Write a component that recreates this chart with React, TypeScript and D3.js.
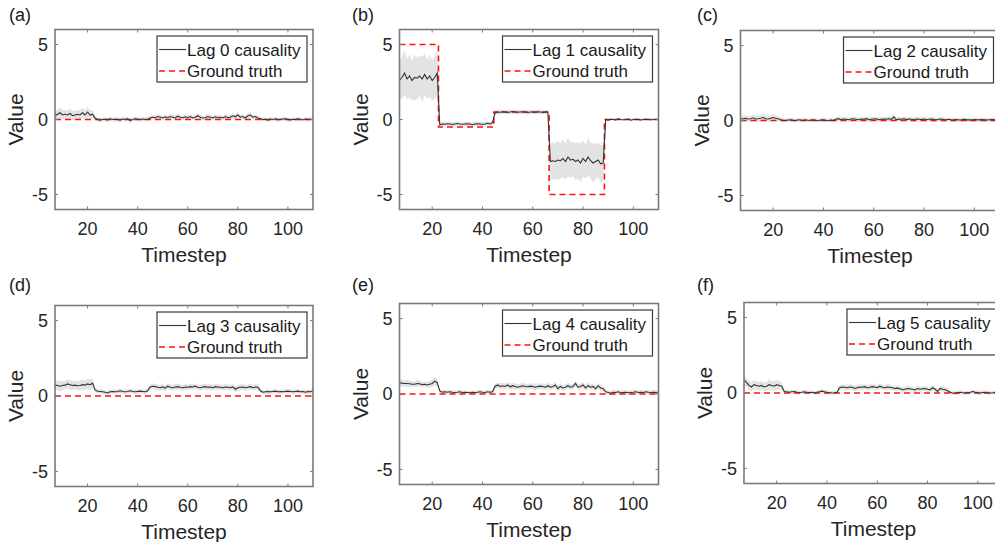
import React from "react";
import * as d3 from "d3";

// ---------- data ----------
const TIMESTEPS: number[] = d3.range(7, 111); // 104 timesteps, 7..110
const X_TICKS = [20, 40, 60, 80, 100];
const Y_TICKS = [-5, 0, 5];
const PANEL_LABELS = ["(a)", "(b)", "(c)", "(d)", "(e)", "(f)"];
const LEGEND_LABELS = [
  "Lag 0 causality",
  "Lag 1 causality",
  "Lag 2 causality",
  "Lag 3 causality",
  "Lag 4 causality",
  "Lag 5 causality",
];
const GT_LABEL = "Ground truth";

// mean estimates (segments: t7-22 | 23-44 | 45-66 | 67-88 | 89-110)
const lag0Mean = [
  0.25, 0.35, 0.45, 0.3, 0.35, 0.3, 0.4, 0.25, 0.3, 0.35, 0.3, 0.45, 0.3, 0.5, 0.3, 0.35,
  0.1, 0.0, -0.05, 0.0, 0.02, -0.03, 0.05, 0.0, 0.02, 0.0, -0.05, 0.03, 0.0, 0.05, -0.08, 0.0, 0.05, 0.02, 0.0, 0.03, 0.0, 0.02,
  0.1, 0.15, 0.12, 0.2, 0.15, 0.1, 0.18, 0.12, 0.2, 0.15, 0.1, 0.22, 0.15, 0.1, 0.18, 0.12, 0.2, 0.1, 0.15, 0.25, 0.15, 0.1,
  0.12, 0.2, 0.15, 0.1, 0.18, 0.12, 0.15, 0.1, 0.2, 0.12, 0.15, 0.25, 0.18, 0.3, 0.15, 0.2, 0.1, 0.25, 0.3, 0.15, 0.2, 0.1,
  0.05, 0.0, 0.02, -0.05, 0.03, 0.0, 0.05, -0.02, 0.0, 0.03, 0.05, 0.0, -0.03, 0.02, 0.0, 0.05, 0.0, -0.02, 0.03, 0.0, 0.02, 0.0,
];
const lag0Std = [
  0.3, 0.32, 0.35, 0.3, 0.28, 0.3, 0.33, 0.3, 0.28, 0.3, 0.32, 0.35, 0.3, 0.35, 0.3, 0.28,
  0.15, 0.14, 0.15, 0.13, 0.15, 0.14, 0.15, 0.13, 0.15, 0.14, 0.15, 0.13, 0.15, 0.14, 0.15, 0.13, 0.15, 0.14, 0.15, 0.13, 0.15, 0.14,
  0.15, 0.14, 0.15, 0.16, 0.15, 0.14, 0.15, 0.16, 0.15, 0.14, 0.15, 0.16, 0.15, 0.14, 0.15, 0.16, 0.15, 0.14, 0.15, 0.16, 0.15, 0.14,
  0.15, 0.16, 0.15, 0.14, 0.15, 0.16, 0.15, 0.14, 0.15, 0.16, 0.15, 0.18, 0.15, 0.2, 0.15, 0.16, 0.15, 0.18, 0.2, 0.15, 0.16, 0.15,
  0.12, 0.13, 0.12, 0.14, 0.12, 0.13, 0.12, 0.14, 0.12, 0.13, 0.12, 0.14, 0.12, 0.13, 0.12, 0.14, 0.12, 0.13, 0.12, 0.14, 0.12, 0.13,
];

const lag1Mean = [
  2.6, 2.8, 3.1, 2.7, 2.9, 2.6, 2.8, 2.75, 2.9, 2.7, 3.0, 2.7, 2.9, 2.6, 2.8, 3.1,
  -0.35, -0.3, -0.32, -0.28, -0.3, -0.33, -0.3, -0.27, -0.3, -0.32, -0.3, -0.28, -0.3, -0.35, -0.3, -0.28, -0.3, -0.33, -0.3, -0.25, -0.3, -0.2,
  0.45, 0.5, 0.48, 0.52, 0.5, 0.47, 0.5, 0.53, 0.5, 0.48, 0.5, 0.52, 0.5, 0.47, 0.5, 0.5, 0.48, 0.52, 0.5, 0.47, 0.5, 0.5,
  -2.8, -2.75, -2.8, -2.7, -2.75, -2.6, -2.8, -2.5, -2.7, -2.65, -2.8, -2.7, -2.9, -2.6, -2.8, -2.5, -2.75, -2.9, -2.8, -2.7, -2.95, -2.9,
  0.0, -0.05, 0.02, 0.0, -0.03, 0.05, 0.0, -0.02, 0.0, 0.03, -0.05, 0.0, 0.02, 0.0, -0.03, 0.0, 0.02, 0.0, -0.02, 0.0, 0.01, 0.0,
];
const lag1Std = [
  1.3, 1.4, 1.5, 1.35, 1.45, 1.3, 1.5, 1.4, 1.35, 1.5, 1.4, 1.3, 1.45, 1.35, 1.4, 1.5,
  0.15, 0.14, 0.15, 0.13, 0.15, 0.14, 0.15, 0.13, 0.15, 0.14, 0.15, 0.13, 0.15, 0.14, 0.15, 0.13, 0.15, 0.14, 0.15, 0.13, 0.15, 0.14,
  0.15, 0.16, 0.15, 0.14, 0.15, 0.16, 0.15, 0.14, 0.15, 0.16, 0.15, 0.14, 0.15, 0.16, 0.15, 0.14, 0.15, 0.16, 0.15, 0.14, 0.15, 0.16,
  1.15, 1.25, 1.2, 1.3, 1.15, 1.25, 1.2, 1.3, 1.2, 1.15, 1.25, 1.2, 1.3, 1.2, 1.15, 1.25, 1.2, 1.3, 1.2, 1.15, 1.25, 1.2,
  0.08, 0.07, 0.08, 0.09, 0.08, 0.07, 0.08, 0.09, 0.08, 0.07, 0.08, 0.09, 0.08, 0.07, 0.08, 0.09, 0.08, 0.07, 0.08, 0.09, 0.08, 0.07,
];

const lag2Mean = [
  0.1, 0.12, 0.15, 0.1, 0.12, 0.18, 0.1, 0.12, 0.15, 0.2, 0.12, 0.1, 0.15, 0.2, 0.15, 0.12,
  0.05, 0.02, 0.0, 0.03, 0.05, 0.02, 0.0, 0.05, 0.03, 0.02, 0.05, 0.0, 0.03, 0.05, 0.02, 0.0, 0.03, 0.05, 0.02, 0.0, 0.03, 0.0,
  0.08, 0.12, 0.05, 0.1, 0.08, 0.05, 0.1, 0.12, 0.08, 0.05, 0.1, 0.08, 0.12, 0.05, 0.08, 0.1, 0.12, 0.05, 0.08, 0.1, 0.08, 0.12,
  0.08, 0.25, 0.05, 0.1, 0.08, 0.12, 0.06, 0.1, 0.08, 0.05, 0.1, 0.08, 0.06, 0.1, 0.05, 0.08, 0.1, 0.06, 0.05, 0.08, 0.1, 0.05,
  0.05, 0.08, 0.03, 0.05, 0.06, 0.03, 0.05, 0.08, 0.04, 0.05, 0.03, 0.06, 0.05, 0.04, 0.06, 0.05, 0.03, 0.05, 0.06, 0.04, 0.05, 0.05,
];
const lag2Std = [
  0.18, 0.2, 0.22, 0.18, 0.2, 0.22, 0.2, 0.18, 0.2, 0.25, 0.2, 0.18, 0.22, 0.25, 0.2, 0.18,
  0.12, 0.13, 0.12, 0.14, 0.12, 0.13, 0.12, 0.14, 0.12, 0.13, 0.12, 0.14, 0.12, 0.13, 0.12, 0.14, 0.12, 0.13, 0.12, 0.14, 0.12, 0.13,
  0.15, 0.16, 0.15, 0.14, 0.15, 0.16, 0.15, 0.14, 0.15, 0.16, 0.15, 0.14, 0.15, 0.16, 0.15, 0.14, 0.15, 0.16, 0.15, 0.14, 0.15, 0.16,
  0.15, 0.2, 0.15, 0.14, 0.15, 0.16, 0.15, 0.14, 0.15, 0.16, 0.15, 0.14, 0.15, 0.16, 0.15, 0.14, 0.15, 0.16, 0.15, 0.14, 0.15, 0.16,
  0.12, 0.13, 0.12, 0.14, 0.12, 0.13, 0.12, 0.14, 0.12, 0.13, 0.12, 0.14, 0.12, 0.13, 0.12, 0.14, 0.12, 0.13, 0.12, 0.14, 0.12, 0.13,
];

const lag3Mean = [
  0.75, 0.7, 0.65, 0.7, 0.72, 0.8, 0.75, 0.7, 0.72, 0.68, 0.7, 0.75, 0.72, 0.8, 0.75, 0.85,
  0.4, 0.32, 0.3, 0.28, 0.25, 0.2, 0.28, 0.3, 0.28, 0.3, 0.35, 0.3, 0.28, 0.3, 0.35, 0.3, 0.28, 0.3, 0.32, 0.3, 0.28, 0.35,
  0.6, 0.65, 0.62, 0.58, 0.55, 0.6, 0.52, 0.65, 0.58, 0.55, 0.6, 0.62, 0.58, 0.55, 0.6, 0.58, 0.62, 0.6, 0.65, 0.58, 0.55, 0.6,
  0.62, 0.58, 0.6, 0.55, 0.62, 0.6, 0.58, 0.55, 0.6, 0.58, 0.55, 0.6, 0.45, 0.55, 0.58, 0.6, 0.55, 0.58, 0.62, 0.55, 0.6, 0.58,
  0.35, 0.25, 0.28, 0.3, 0.28, 0.3, 0.32, 0.28, 0.3, 0.28, 0.3, 0.32, 0.3, 0.28, 0.3, 0.32, 0.28, 0.3, 0.25, 0.3, 0.28, 0.35,
];
const lag3Std = [
  0.3, 0.32, 0.35, 0.3, 0.28, 0.3, 0.33, 0.3, 0.28, 0.3, 0.32, 0.35, 0.3, 0.35, 0.38, 0.3,
  0.15, 0.14, 0.15, 0.13, 0.15, 0.14, 0.15, 0.13, 0.15, 0.14, 0.15, 0.13, 0.15, 0.14, 0.15, 0.13, 0.15, 0.14, 0.15, 0.13, 0.15, 0.14,
  0.2, 0.18, 0.2, 0.19, 0.2, 0.18, 0.2, 0.19, 0.2, 0.18, 0.2, 0.19, 0.2, 0.18, 0.2, 0.19, 0.2, 0.18, 0.2, 0.19, 0.2, 0.18,
  0.2, 0.18, 0.2, 0.19, 0.2, 0.18, 0.2, 0.19, 0.2, 0.18, 0.2, 0.19, 0.2, 0.18, 0.2, 0.19, 0.2, 0.18, 0.2, 0.19, 0.2, 0.18,
  0.14, 0.13, 0.14, 0.15, 0.14, 0.13, 0.14, 0.15, 0.14, 0.13, 0.14, 0.15, 0.14, 0.13, 0.14, 0.15, 0.14, 0.13, 0.14, 0.15, 0.14, 0.13,
];

const lag4Mean = [
  0.75, 0.72, 0.7, 0.7, 0.68, 0.65, 0.65, 0.7, 0.68, 0.62, 0.65, 0.6, 0.65, 0.7, 0.85, 0.75,
  0.2, 0.12, 0.15, 0.12, 0.15, 0.12, 0.1, 0.12, 0.15, 0.1, 0.12, 0.1, 0.08, 0.12, 0.1, 0.12, 0.15, 0.12, 0.1, 0.15, 0.12, 0.15,
  0.5, 0.6, 0.5, 0.55, 0.5, 0.6, 0.48, 0.55, 0.5, 0.45, 0.5, 0.55, 0.5, 0.48, 0.52, 0.5, 0.45, 0.5, 0.52, 0.5, 0.45, 0.55,
  0.45, 0.5, 0.6, 0.35, 0.5, 0.4, 0.45, 0.55, 0.45, 0.5, 0.7, 0.45, 0.5, 0.6, 0.4, 0.55, 0.45, 0.5, 0.35, 0.55, 0.4, 0.35,
  0.15, 0.1, 0.05, 0.12, 0.1, 0.15, 0.08, 0.1, 0.12, 0.08, 0.1, 0.12, 0.15, 0.1, 0.12, 0.1, 0.15, 0.12, 0.1, 0.12, 0.1, 0.12,
];
const lag4Std = [
  0.25, 0.22, 0.2, 0.22, 0.2, 0.18, 0.2, 0.22, 0.2, 0.18, 0.2, 0.18, 0.2, 0.25, 0.3, 0.25,
  0.12, 0.13, 0.12, 0.14, 0.12, 0.13, 0.12, 0.14, 0.12, 0.13, 0.12, 0.14, 0.12, 0.13, 0.12, 0.14, 0.12, 0.13, 0.12, 0.14, 0.12, 0.13,
  0.2, 0.18, 0.2, 0.19, 0.2, 0.18, 0.2, 0.19, 0.2, 0.18, 0.2, 0.19, 0.2, 0.18, 0.2, 0.19, 0.2, 0.18, 0.2, 0.19, 0.2, 0.18,
  0.2, 0.18, 0.2, 0.19, 0.2, 0.18, 0.2, 0.19, 0.2, 0.18, 0.2, 0.19, 0.2, 0.18, 0.2, 0.19, 0.2, 0.18, 0.2, 0.19, 0.2, 0.18,
  0.15, 0.14, 0.15, 0.16, 0.15, 0.14, 0.15, 0.16, 0.15, 0.14, 0.15, 0.16, 0.15, 0.14, 0.15, 0.16, 0.15, 0.14, 0.15, 0.16, 0.15, 0.14,
];

const lag5Mean = [
  0.85, 0.7, 0.5, 0.4, 0.55, 0.5, 0.45, 0.5, 0.4, 0.45, 0.55, 0.5, 0.45, 0.55, 0.5, 0.45,
  0.1, 0.08, 0.05, 0.08, 0.1, 0.05, 0.03, 0.05, 0.08, 0.05, 0.03, 0.05, 0.0, 0.05, 0.08, 0.12, 0.08, 0.05, 0.03, 0.0, 0.02, 0.05,
  0.35, 0.4, 0.38, 0.35, 0.4, 0.38, 0.3, 0.35, 0.4, 0.38, 0.42, 0.35, 0.38, 0.42, 0.4, 0.35, 0.45, 0.38, 0.35, 0.4, 0.38, 0.35,
  0.3, 0.32, 0.28, 0.22, 0.25, 0.3, 0.28, 0.25, 0.2, 0.3, 0.25, 0.28, 0.3, 0.25, 0.2, 0.35, 0.25, 0.1, 0.3, 0.25, 0.22, 0.15,
  0.05, 0.0, -0.02, 0.02, 0.05, 0.02, 0.0, 0.03, 0.05, 0.1, 0.05, 0.02, 0.0, 0.03, 0.05, 0.02, 0.0, 0.02, 0.05, 0.02, 0.0, 0.03,
];
const lag5Std = [
  0.35, 0.3, 0.28, 0.3, 0.32, 0.3, 0.28, 0.32, 0.3, 0.28, 0.35, 0.3, 0.32, 0.35, 0.3, 0.28,
  0.12, 0.13, 0.12, 0.14, 0.12, 0.13, 0.12, 0.14, 0.12, 0.13, 0.12, 0.14, 0.12, 0.13, 0.12, 0.14, 0.12, 0.13, 0.12, 0.14, 0.12, 0.13,
  0.18, 0.17, 0.18, 0.19, 0.18, 0.17, 0.18, 0.19, 0.18, 0.17, 0.18, 0.19, 0.18, 0.17, 0.18, 0.19, 0.18, 0.17, 0.18, 0.19, 0.18, 0.17,
  0.17, 0.18, 0.17, 0.16, 0.17, 0.18, 0.17, 0.16, 0.17, 0.18, 0.17, 0.16, 0.17, 0.18, 0.17, 0.16, 0.17, 0.18, 0.17, 0.16, 0.17, 0.18,
  0.12, 0.13, 0.12, 0.14, 0.12, 0.13, 0.12, 0.14, 0.12, 0.13, 0.12, 0.14, 0.12, 0.13, 0.12, 0.14, 0.12, 0.13, 0.12, 0.14, 0.12, 0.13,
];

// ground truth levels per segment (t7-22 | 23-44 | 45-66 | 67-88 | 89-110)
const SEGMENT_STARTS = [7, 23, 45, 67, 89];
const gtZero = [0, 0, 0, 0, 0];
const gtLag1 = [5, -0.5, 0.5, -5, 0];

const MEANS = [lag0Mean, lag1Mean, lag2Mean, lag3Mean, lag4Mean, lag5Mean];
const STDS = [lag0Std, lag1Std, lag2Std, lag3Std, lag4Std, lag5Std];
const GROUND_TRUTHS = [gtZero, gtLag1, gtZero, gtZero, gtZero, gtZero];

// ---------- layout ----------
const W = 995;
const H = 542;
const FONT = "'Liberation Sans', Arial, Helvetica, sans-serif";
const PANELS = [
  { left: 55, top: 29.5, width: 258, height: 180 },
  { left: 399.5, top: 29.5, width: 259, height: 180 },
  { left: 740.5, top: 30.5, width: 259, height: 180 },
  { left: 55, top: 305.5, width: 258, height: 181 },
  { left: 399.5, top: 303.5, width: 259, height: 181 },
  { left: 744, top: 302.5, width: 259, height: 181 },
];
const LABEL_POS = [
  { x: 9, y: 21 },
  { x: 352, y: 21 },
  { x: 697, y: 21 },
  { x: 9, y: 291 },
  { x: 352, y: 291 },
  { x: 697, y: 291 },
];

function gtAt(levels: number[], t: number): number {
  let idx = 0;
  for (let i = 0; i < SEGMENT_STARTS.length; i++) if (t >= SEGMENT_STARTS[i]) idx = i;
  return levels[idx];
}

function Panel({ i }: { i: number }) {
  const p = PANELS[i];
  const x = d3.scaleLinear().domain([7, 110]).range([0, p.width]);
  const y = d3.scaleLinear().domain([-6, 6]).range([p.height, 0]);
  const mean = MEANS[i];
  const std = STDS[i];
  const gt = GROUND_TRUTHS[i];
  const pts = TIMESTEPS.map((t, k) => ({ t, m: mean[k], s: std[k], g: gtAt(gt, t) }));

  const area = d3
    .area<any>()
    .x((d) => x(d.t))
    .y0((d) => y(d.m - d.s))
    .y1((d) => y(d.m + d.s));
  const line = d3
    .line<any>()
    .x((d) => x(d.t))
    .y((d) => y(d.m));
  const gtLine = d3
    .line<any>()
    .curve(d3.curveStep)
    .x((d) => x(d.t))
    .y((d) => y(d.g));

  const clipId = `clip${i}`;
  const tickLen = 3;
  const axisColor = "#7a7a7a";
  const textColor = "#262626";

  const lgW = 150;
  const lgH = 46;
  const lgX = p.width - 6 - lgW;
  const lgY = 6.5;

  return (
    <g transform={`translate(${p.left},${p.top})`}>
      <defs>
        <clipPath id={clipId}>
          <rect x={0} y={0} width={p.width} height={p.height} />
        </clipPath>
      </defs>
      <g clipPath={`url(#${clipId})`}>
        <path d={area(pts) || ""} fill="#e3e3e3" stroke="none" />
        <path
          d={gtLine(pts) || ""}
          fill="none"
          stroke="#ff1010"
          strokeWidth={1.6}
          strokeDasharray="6,4"
        />
        <path d={line(pts) || ""} fill="none" stroke="#333333" strokeWidth={1.1} />
      </g>
      {/* ticks */}
      {X_TICKS.map((t) => (
        <g key={`xt${t}`}>
          <line x1={x(t)} x2={x(t)} y1={p.height} y2={p.height - tickLen} stroke={axisColor} strokeWidth={1} />
          <line x1={x(t)} x2={x(t)} y1={0} y2={tickLen} stroke={axisColor} strokeWidth={1} />
          <text
            x={x(t)}
            y={p.height + 25}
            textAnchor="middle"
            fontSize={18}
            fontFamily={FONT}
            fill={textColor}
          >
            {t}
          </text>
        </g>
      ))}
      {Y_TICKS.map((v) => (
        <g key={`yt${v}`}>
          <line x1={0} x2={tickLen} y1={y(v)} y2={y(v)} stroke={axisColor} strokeWidth={1} />
          <line x1={p.width} x2={p.width - tickLen} y1={y(v)} y2={y(v)} stroke={axisColor} strokeWidth={1} />
          <text
            x={-7}
            y={y(v)}
            dy="0.36em"
            textAnchor="end"
            fontSize={18}
            fontFamily={FONT}
            fill={textColor}
          >
            {v}
          </text>
        </g>
      ))}
      <rect x={0} y={0} width={p.width} height={p.height} fill="none" stroke={axisColor} strokeWidth={1.6} />
      {/* axis labels */}
      <text
        x={p.width / 2}
        y={p.height + 52}
        textAnchor="middle"
        fontSize={21}
        fontFamily={FONT}
        fill={textColor}
      >
        Timestep
      </text>
      <text
        transform={`translate(${-32},${p.height / 2}) rotate(-90)`}
        textAnchor="middle"
        fontSize={21}
        fontFamily={FONT}
        fill={textColor}
      >
        Value
      </text>
      {/* legend */}
      <g transform={`translate(${lgX},${lgY})`}>
        <rect x={0} y={0} width={lgW} height={lgH} fill="#ffffff" stroke="#3a3a3a" strokeWidth={1.2} />
        <line x1={2} x2={29} y1={13.5} y2={13.5} stroke="#333333" strokeWidth={1.1} />
        <text x={30} y={13.5} dy="0.36em" fontSize={17} fontFamily={FONT} fill="#1a1a1a">
          {LEGEND_LABELS[i]}
        </text>
        <line
          x1={2}
          x2={29}
          y1={35}
          y2={35}
          stroke="#ff1010"
          strokeWidth={1.6}
          strokeDasharray="6,4"
        />
        <text x={30} y={35} dy="0.36em" fontSize={17} fontFamily={FONT} fill="#1a1a1a">
          {GT_LABEL}
        </text>
      </g>
    </g>
  );
}

export default function App() {
  return (
    <svg
      width={W}
      height={H}
      viewBox={`0 0 ${W} ${H}`}
      style={{ position: "absolute", left: 0, top: 0, background: "#ffffff" }}
    >
      <rect x={0} y={0} width={W} height={H} fill="#ffffff" />
      {PANELS.map((_, i) => (
        <Panel key={i} i={i} />
      ))}
      {PANEL_LABELS.map((lab, i) => (
        <text
          key={lab}
          x={LABEL_POS[i].x}
          y={LABEL_POS[i].y}
          fontSize={18}
          fontFamily={FONT}
          fill="#1a1a1a"
        >
          {lab}
        </text>
      ))}
    </svg>
  );
}
